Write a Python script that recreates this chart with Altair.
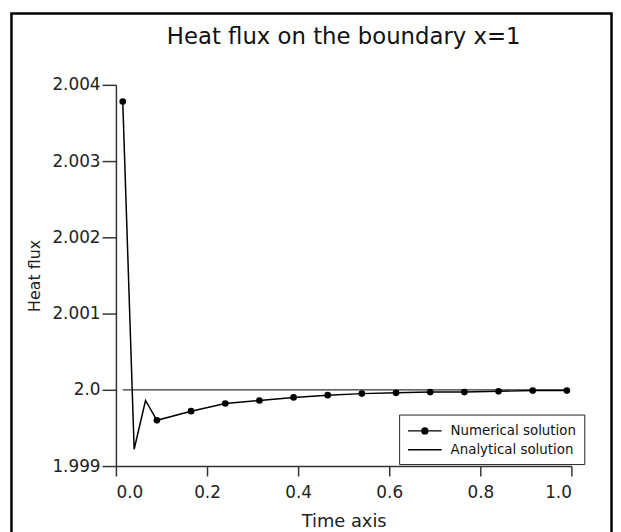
import altair as alt
import pandas as pd

# ---- data ----
t_vals = [0.015, 0.04, 0.065, 0.09, 0.165, 0.24, 0.315, 0.39, 0.465,
          0.54, 0.615, 0.69, 0.765, 0.84, 0.915, 0.99]
numerical = [2.00378, 1.99922, 1.99986, 1.99960, 1.99972, 1.99982, 1.99986,
             1.99990, 1.99993, 1.99995, 1.99996, 1.99997, 1.99997, 1.99998,
             1.99999, 1.99999]
has_marker = [True, False, False, True, True, True, True, True, True,
              True, True, True, True, True, True, True]
analytical_t = [0.015, 0.99]
analytical = [2.0, 2.0]
series_names = ["Numerical solution", "Analytical solution"]
x_ticks = [0.0, 0.2, 0.4, 0.6, 0.8, 1.0]
y_ticks = [1.999, 2.0, 2.001, 2.002, 2.003, 2.004]

num_df = pd.DataFrame({"t": t_vals, "v": numerical, "marker": has_marker,
                       "series": series_names[0]})
ana_df = pd.DataFrame({"t": analytical_t, "v": analytical,
                       "series": series_names[1]})
legend_df = pd.DataFrame({"t": [0.5, 0.5], "v": [2.0, 2.0], "series": series_names})

FONT = "DejaVu Sans"

x_enc = alt.X("t:Q", scale=alt.Scale(domain=[0, 1], nice=False, zero=False),
              axis=alt.Axis(values=x_ticks, format=".1f", title="Time axis",
                            tickSize=10, labelPadding=9, titlePadding=12,
                            titleFontSize=18))
y_enc = alt.Y("v:Q", scale=alt.Scale(domain=[1.999, 2.004], nice=False, zero=False),
              axis=alt.Axis(values=y_ticks, title="Heat flux", tickSize=14,
                            labelPadding=2, titlePadding=10, titleFontSize=16,
                            labelExpr="datum.value == 2 ? '2.0' : format(datum.value, '.3f')"))

analytical_line = alt.Chart(ana_df).mark_line(color="#333333", strokeWidth=1.3).encode(
    x=x_enc, y=y_enc)
numerical_line = alt.Chart(num_df).mark_line(color="black", strokeWidth=1.5).encode(
    x=x_enc, y=y_enc)
numerical_dots = alt.Chart(num_df).transform_filter("datum.marker").mark_point(
    filled=True, color="black", size=45, opacity=1).encode(x=x_enc, y=y_enc)

# legend glyphs: a line with a filled dot (drawn as concentric rings), and a plain line
num_path = ("M-1,0L3.53,0"
            "M0.867,0A0.4,0.4,0,1,1,1.667,0A0.4,0.4,0,1,1,0.867,0"
            "M1.017,0A0.25,0.25,0,1,1,1.517,0A0.25,0.25,0,1,1,1.017,0"
            "M1.167,0A0.1,0.1,0,1,1,1.367,0A0.1,0.1,0,1,1,1.167,0")
ana_path = "M-1,0L3.53,0"

legend_layer = alt.Chart(legend_df).transform_filter("false").mark_point(
    filled=False, color="black", strokeWidth=1.4, opacity=1).encode(
    x=x_enc, y=y_enc,
    shape=alt.Shape("series:N",
                    scale=alt.Scale(domain=series_names, range=[num_path, ana_path]),
                    legend=alt.Legend(title=None, orient="none", legendX=286, legendY=333,
                                      padding=8, strokeColor="#222222", fillColor="white",
                                      symbolSize=225, labelOffset=27, rowPadding=4,
                                      labelFont=FONT, labelFontSize=13.5, labelColor="#111111",
                                      symbolStrokeColor="black",
                                      symbolStrokeWidth=1.4, symbolOpacity=1)))

frame = alt.Chart(pd.DataFrame({"a": [0]})).mark_rect(
    fillOpacity=0, stroke="black", strokeWidth=2.5).encode(
    x=alt.value(-105.5), x2=alt.value(500.5), y=alt.value(-72), y2=alt.value(480))

chart = alt.layer(analytical_line, numerical_line, numerical_dots, legend_layer, frame).properties(
    width=460, height=385,
    title=alt.Title("Heat flux on the boundary x=1", font=FONT, fontSize=23,
                    fontWeight="normal", color="#111111", anchor="middle", offset=-37),
    autosize=alt.AutoSizeParams(type="none"),
    padding={"left": 109, "top": 75, "right": 42, "bottom": 64},
).configure_view(stroke=None).configure_axis(
    grid=False, domainColor="#333333", domainWidth=1.5, tickColor="#333333", tickWidth=1.5,
    labelFont=FONT, labelFontSize=17, labelColor="#222222",
    titleFont=FONT, titleFontWeight="normal", titleColor="#222222",
)

chart.save("out.html", embed_options={"renderer": "svg", "actions": False})
